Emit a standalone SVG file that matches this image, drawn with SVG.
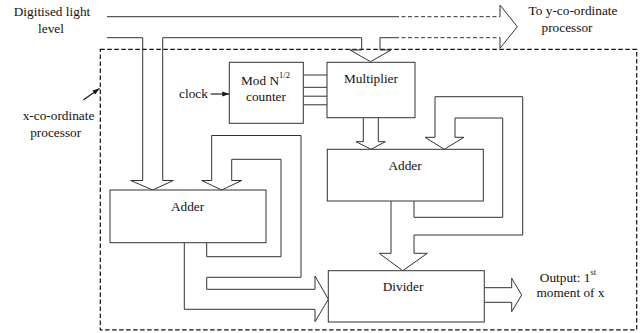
<svg xmlns="http://www.w3.org/2000/svg" width="641" height="333" viewBox="0 0 641 333">
  <style>
    .box { fill: #fff; stroke: #333; stroke-width: 1; }
    .pipe { fill: none; stroke: #333; stroke-width: 1; stroke-linejoin: miter; }
    .dash { fill: none; stroke: #333; stroke-width: 1; stroke-dasharray: 4 2.5; }
    .frame { fill: none; stroke: #111; stroke-width: 1.2; stroke-dasharray: 4.5 2.5; }
    text { font-family: "Liberation Serif", "Times New Roman", serif; font-size: 13.3px; fill: #111; text-anchor: middle; }
    .sup { font-size: 8.5px; }
  </style>
  <defs>
    <marker id="head" viewBox="0 0 10 10" refX="10" refY="5" markerWidth="7" markerHeight="7" orient="auto" markerUnits="userSpaceOnUse">
      <path d="M0,1.5 L10,5 L0,8.5 Z" fill="#111"/>
    </marker>
  </defs>

  <!-- x-co-ordinate processor boundary -->
  <rect class="frame" x="100.3" y="49.3" width="536.4" height="280.5"/>

  <!-- outside labels -->
  <text x="52" y="16">Digitised light</text>
  <text x="51" y="33">level</text>
  <text x="573" y="15">To y-co-ordinate</text>
  <text x="567" y="32">processor</text>
  <text x="58.5" y="119.5">x-co-ordinate</text>
  <text x="55.7" y="136.5">processor</text>

  <g id="connectors">
    <!-- light level bus: upper wall -->
    <path class="pipe" d="M107,16.7 H395"/>
    <path class="dash" d="M395,16.7 H500"/>
    <!-- light level bus: lower wall with branches to Adder and Multiplier -->
    <path class="pipe" d="M107,37.7 H142.7 V180.5 H130.7 L152.7,190 L173.3,180.5 H162.7 V37.7 H361.7 V50 H350 L370.5,61.7 L391,50 H380 V37.7 H395"/>
    <path class="dash" d="M395,37.7 H500"/>
    <!-- bus arrowhead toward y processor -->
    <path class="pipe" d="M500,16.7 V5 L517.3,26.7 L500,48.3 V37.7"/>

    <!-- counter to multiplier lines -->
    <path class="pipe" d="M303.3,75 H327 M303.3,87.3 H327 M303.3,96.2 H327 M303.3,104.8 H327"/>

    <!-- clock input -->
    <line x1="210.7" y1="94" x2="229.3" y2="94" stroke="#111" stroke-width="1.1" marker-end="url(#head)"/>
    <!-- label pointer -->
    <line x1="83.3" y1="100" x2="99.5" y2="88.5" stroke="#111" stroke-width="1.1" marker-end="url(#head)"/>

    <!-- multiplier to right adder -->
    <path class="pipe" d="M363.3,117.7 V141.7 H356 L371,149.3 L385.3,141.7 H378.3 V117.7"/>

    <!-- right adder: feedback loops and output to divider -->
    <path class="pipe" d="M414,201 V217.3 H502.7 V118 H455 V137.3 H464 L444.3,149.3 L425,137.3 H435 V96.7 H522.7 V235 H414 V253.3 H427.3 L402.7,270.7 L379.3,253.3 H391 V201"/>

    <!-- left adder: feedback loops and output to divider -->
    <path class="pipe" d="M206.7,242.7 V256.7 H281 V159.3 H231.7 V180.5 H241.7 L221.7,190 L201.7,180.5 H211.7 V135.5 H301 V277.3 H206.7 V289.3 H315 V276 L328.3,299.3 L315,321.7 V309.3 H184.3 V242.7"/>

    <!-- divider output -->
    <path class="pipe" d="M484.3,287.7 H511.7 V278.3 L521.7,295 L511.7,311.7 V302.3 H484.3"/>
  </g>

  <g id="counter">
    <rect class="box" x="229.3" y="62.3" width="74" height="61"/>
    <text x="265.5" y="84.5">Mod N<tspan class="sup" dy="-6.5">1/2</tspan></text>
    <text x="266" y="101">counter</text>
  </g>
  <text x="193.5" y="98">clock</text>

  <g id="multiplier">
    <rect class="box" x="327" y="62.3" width="88" height="55.4"/>
    <text x="371" y="82.5">Multiplier</text>
  </g>

  <g id="adder-right">
    <rect class="box" x="327.3" y="149.3" width="156" height="51.7"/>
    <text x="405" y="169.5">Adder</text>
  </g>

  <g id="adder-left">
    <rect class="box" x="110" y="190" width="156" height="52.7"/>
    <text x="187.5" y="210.5">Adder</text>
  </g>

  <g id="divider">
    <rect class="box" x="328.3" y="270.7" width="156" height="51.3"/>
    <text x="403" y="290.5">Divider</text>
  </g>

  <g id="output-label">
    <text x="568" y="281.5">Output: 1<tspan class="sup" dy="-6.5">st</tspan></text>
    <text x="570.5" y="296.5">moment of x</text>
  </g>
</svg>
